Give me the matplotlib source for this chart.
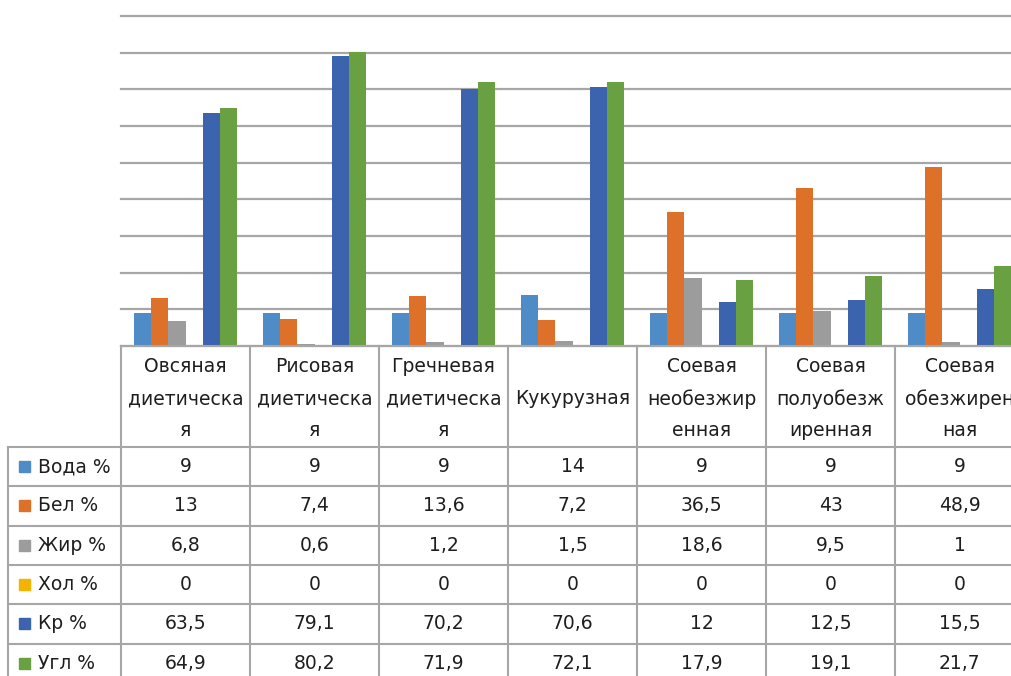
import matplotlib
matplotlib.use("Agg")
import matplotlib.pyplot as plt
import numpy as np
from matplotlib.patches import Rectangle

# Состав круп: вода, белки, жиры, холестерин, крахмал, углеводы (%)
categories = ["Овсяная\nдиетическа\nя", "Рисовая\nдиетическа\nя", "Гречневая\nдиетическа\nя",
              "Кукурузная", "Соевая\nнеобезжир\nенная", "Соевая\nполуобезж\nиренная",
              "Соевая\nобезжирен\nная"]
series = ["Вода %", "Бел %", "Жир %", "Хол %", "Кр %", "Угл %"]
voda = [9, 9, 9, 14, 9, 9, 9]
bel = [13, 7.4, 13.6, 7.2, 36.5, 43, 48.9]
zhir = [6.8, 0.6, 1.2, 1.5, 18.6, 9.5, 1]
hol = [0, 0, 0, 0, 0, 0, 0]
kr = [63.5, 79.1, 70.2, 70.6, 12, 12.5, 15.5]
ugl = [64.9, 80.2, 71.9, 72.1, 17.9, 19.1, 21.7]
values = [voda, bel, zhir, hol, kr, ugl]
colors = ["#4f8bc6", "#dd7129", "#9c9c9c", "#f2b400", "#3c63ad", "#68a042"]

W, H = 1011, 676
grid_col = "#a6a6a6"
text_col = "#1e1e1e"
font = "DejaVu Sans"
fs = 13.5

fig = plt.figure(figsize=(W / 100, H / 100), dpi=100)

# plot area (the right edge runs past the figure)
left, right, top, base = 121, 1024, 16, 346
ax = fig.add_axes([left / W, (H - base) / H, (right - left) / W, (base - top) / H])
n = len(categories)
x = np.arange(n)
w = 1 / 7.5
for i, (name, vals) in enumerate(zip(series, values)):
    ax.bar(x + (i - 2.5) * w, vals, width=w, color=colors[i], zorder=3)
ax.set_xlim(-0.5, n - 0.5)
ax.set_ylim(0, 90)
ax.set_yticks(np.arange(0, 91, 10))
ax.yaxis.grid(True, color=grid_col, linewidth=1.6)
for gl in ax.yaxis.get_gridlines():
    gl.set_clip_on(False)
ax.tick_params(left=False, bottom=False, labelleft=False, labelbottom=False)
for s in ax.spines.values():
    s.set_visible(False)

# data table below the plot area, in pixel coordinates
tab = fig.add_axes([0, 0, 1, 1], zorder=5)
tab.set_xlim(0, W)
tab.set_ylim(H, 0)
tab.axis("off")

col_w = (right - left) / n
col_edges = left + col_w * np.arange(n + 1)
lab_left = 8
head_bottom = 447
row_h = 39.3
row_edges = head_bottom + row_h * np.arange(len(series) + 1)

lw = 1.5
tab.plot([left, W], [base, base], color=grid_col, lw=lw)
for y in row_edges:
    tab.plot([lab_left, W], [y, y], color=grid_col, lw=lw)
tab.plot([lab_left, lab_left], [head_bottom, H + 10], color=grid_col, lw=lw)
for xe in col_edges:
    tab.plot([xe, xe], [base, H + 10], color=grid_col, lw=lw)

line_y = [367, 399, 430]
for j, cat in enumerate(categories):
    cx = col_edges[j] + col_w / 2
    lines = cat.split("\n")
    ys = line_y if len(lines) == 3 else [line_y[1]]
    for t, y in zip(lines, ys):
        tab.text(cx, y, t, ha="center", va="center", fontsize=fs,
                 family=font, color=text_col)

for i, (name, vals) in enumerate(zip(series, values)):
    cy = row_edges[i] + row_h / 2
    tab.add_patch(Rectangle((18.5, cy - 5.5), 11, 11, color=colors[i]))
    tab.text(38, cy, name, ha="left", va="center", fontsize=fs,
             family=font, color=text_col)
    for j, v in enumerate(vals):
        cx = col_edges[j] + col_w / 2
        tab.text(cx, cy, f"{v:g}".replace(".", ","), ha="center", va="center",
                 fontsize=fs, family=font, color=text_col)

fig.savefig("out.png", dpi=100)
